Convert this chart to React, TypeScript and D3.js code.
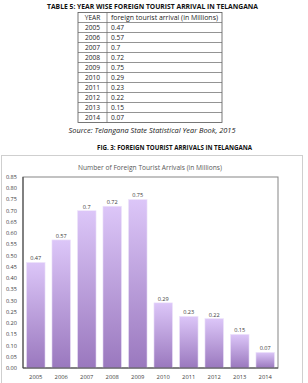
import React from "react";
import { scaleBand, scaleLinear, range } from "d3";

// table + chart data (foreign tourist arrivals, millions)
const years = ["2005", "2006", "2007", "2008", "2009", "2010", "2011", "2012", "2013", "2014"];
const arrivals = [0.47, 0.57, 0.7, 0.72, 0.75, 0.29, 0.23, 0.22, 0.15, 0.07];
const arrivalLabels = ["0.47", "0.57", "0.7", "0.72", "0.75", "0.29", "0.23", "0.22", "0.15", "0.07"];
const yTicks = range(0, 18).map((i) => i * 0.05);

const W = 308;
const H = 383;
const font = "'Open Sans', 'Noto Sans', sans-serif";

function App() {
  // chart scales
  const x = scaleBand<string>().domain(years).range([23, 278]).paddingInner(0.27).paddingOuter(0.135);
  const y = scaleLinear().domain([0, 0.85]).range([368, 177]);

  // table layout
  const tLeft = 78;
  const tMid = 107;
  const tRight = 222;
  const tTop = 12.5;
  const rowH = 10;
  const rows = years.map((yr, i) => ({ yr, v: arrivalLabels[i] }));

  return (
    <div style={{ position: "absolute", left: 0, top: 0 }}>
      <svg width={W} height={H} style={{ display: "block", background: "#fff" }}>
        <defs>
          <linearGradient id="barFill" x1="0" y1="0" x2="0" y2="1">
            <stop offset="0%" stopColor="#dcc6f8" />
            <stop offset="100%" stopColor="#9a78be" />
          </linearGradient>
        </defs>

        {/* table */}
        <text x={152.5} y={9} textAnchor="middle" fontFamily={font} fontWeight="bold" fontSize={7} textLength={211} lengthAdjust="spacingAndGlyphs" fill="#111">
          TABLE 5: YEAR WISE FOREIGN TOURIST ARRIVAL IN TELANGANA
        </text>
        <rect x={tLeft} y={tTop} width={tRight - tLeft} height={rowH * 11} fill="none" stroke="#555" strokeWidth={0.8} />
        {range(1, 11).map((i) => (
          <line key={i} x1={tLeft} x2={tRight} y1={tTop + i * rowH} y2={tTop + i * rowH} stroke="#666" strokeWidth={0.7} />
        ))}
        <line x1={tMid} x2={tMid} y1={tTop} y2={tTop + rowH * 11} stroke="#666" strokeWidth={0.7} />
        <text x={(tLeft + tMid) / 2} y={tTop + 7.3} textAnchor="middle" fontFamily={font} fontSize={6.6} fill="#222">YEAR</text>
        <text x={111} y={tTop + 7.3} fontFamily={font} fontSize={6.6} fill="#222" textLength={107} lengthAdjust="spacingAndGlyphs">
          foreign tourist arrival (in Millions)
        </text>
        {rows.map((r, i) => (
          <g key={r.yr}>
            <text x={(tLeft + tMid) / 2} y={tTop + (i + 1) * rowH + 7.3} textAnchor="middle" fontFamily={font} fontSize={6.6} fill="#222">{r.yr}</text>
            <text x={111} y={tTop + (i + 1) * rowH + 7.3} fontFamily={font} fontSize={6.6} fill="#222">{r.v}</text>
          </g>
        ))}
        <text x={152} y={133} textAnchor="middle" fontFamily={font} fontStyle="italic" fontSize={6.8} fill="#222" textLength={167} lengthAdjust="spacingAndGlyphs">
          Source: Telangana State Statistical Year Book, 2015
        </text>
        <text x={174.5} y={150} textAnchor="middle" fontFamily={font} fontWeight="bold" fontSize={7} textLength={155} lengthAdjust="spacingAndGlyphs" fill="#111">
          FIG. 3: FOREIGN TOURIST ARRIVALS IN TELANGANA
        </text>

        {/* chart box */}
        <rect x={1.5} y={155.5} width={301} height={240} fill="none" stroke="#cfcfcf" strokeWidth={1} />
        <text x={150} y={170} textAnchor="middle" fontFamily={font} fontSize={6.8} fill="#595959" textLength={144} lengthAdjust="spacingAndGlyphs">
          Number of Foreign Tourist Arrivals (in Millions)
        </text>
        <rect x={23} y={177} width={255} height={191} fill="none" stroke="#858585" strokeWidth={1} />

        {years.map((yr, i) => (
          <g key={yr}>
            <rect x={x(yr)} y={y(arrivals[i])} width={x.bandwidth()} height={y(0) - y(arrivals[i])} fill="url(#barFill)" stroke="#efe6fb" strokeWidth={0.6} />
            <text x={(x(yr) ?? 0) + x.bandwidth() / 2} y={y(arrivals[i]) - 2} textAnchor="middle" fontFamily={font} fontSize={5.6} fill="#404040">
              {arrivalLabels[i]}
            </text>
            <text x={(x(yr) ?? 0) + x.bandwidth() / 2} y={378.5} textAnchor="middle" fontFamily={font} fontSize={5.8} fill="#404040">
              {yr}
            </text>
          </g>
        ))}

        {/* y axis */}
        {yTicks.map((t) => (
          <text key={t} x={17} y={y(t) + 2} textAnchor="end" fontFamily={font} fontSize={5.6} fill="#404040">
            {t.toFixed(2)}
          </text>
        ))}
        <line x1={23} x2={23} y1={177} y2={368} stroke="#404040" strokeWidth={1} />
        <line x1={23} x2={278} y1={368} y2={368} stroke="#404040" strokeWidth={1} />
      </svg>
    </div>
  );
}

export default App;
